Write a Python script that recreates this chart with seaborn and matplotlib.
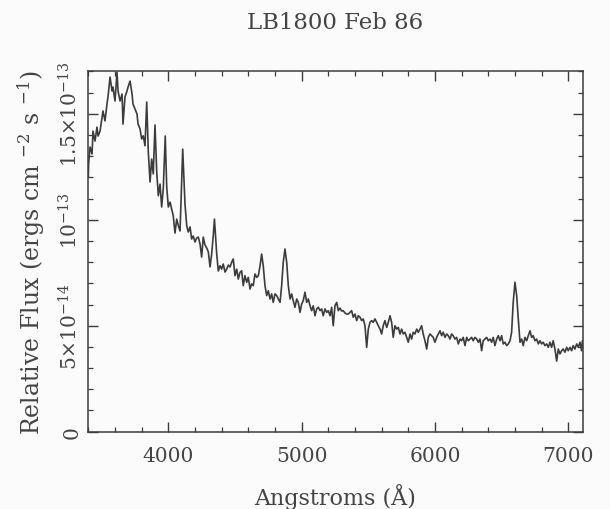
import matplotlib
matplotlib.use("Agg")
import matplotlib.pyplot as plt
import seaborn as sns
import pandas as pd
from matplotlib.ticker import MultipleLocator, FixedLocator

# Wavelength (Angstrom)
wavelength = [
    3400, 3402, 3413, 3428, 3435, 3450, 3465, 3473, 3488, 3503, 3510, 3525, 3540, 3548, 3563, 3578,
    3585, 3600, 3615, 3623, 3638, 3653, 3660, 3675, 3690, 3698, 3713, 3728, 3735, 3750, 3765, 3773,
    3788, 3800, 3812, 3825, 3838, 3850, 3863, 3875, 3887, 3900, 3913, 3925, 3938, 3950, 3962, 3977,
    3988, 4000, 4013, 4025, 4037, 4050, 4063, 4075, 4088, 4108, 4125, 4138, 4150, 4163, 4175, 4187,
    4200, 4213, 4225, 4238, 4250, 4262, 4275, 4288, 4300, 4313, 4325, 4337, 4346, 4363, 4375, 4388,
    4400, 4412, 4425, 4438, 4450, 4463, 4475, 4487, 4500, 4513, 4525, 4538, 4550, 4562, 4575, 4588,
    4600, 4613, 4625, 4637, 4650, 4663, 4675, 4688, 4700, 4712, 4725, 4738, 4750, 4763, 4775, 4787,
    4800, 4813, 4825, 4838, 4850, 4862, 4875, 4888, 4900, 4913, 4925, 4937, 4950, 4963, 4975, 4988,
    5000, 5012, 5025, 5038, 5050, 5063, 5075, 5087, 5100, 5113, 5125, 5138, 5150, 5162, 5175, 5188,
    5200, 5213, 5225, 5237, 5250, 5263, 5275, 5288, 5300, 5312, 5325, 5338, 5350, 5363, 5375, 5387,
    5400, 5413, 5425, 5438, 5450, 5462, 5475, 5488, 5500, 5513, 5525, 5537, 5550, 5563, 5575, 5588,
    5600, 5612, 5625, 5638, 5650, 5663, 5675, 5687, 5700, 5713, 5725, 5738, 5750, 5762, 5775, 5788,
    5800, 5813, 5825, 5837, 5850, 5863, 5875, 5888, 5900, 5912, 5925, 5938, 5950, 5963, 5975, 5987,
    6000, 6013, 6025, 6038, 6050, 6062, 6075, 6088, 6100, 6113, 6125, 6137, 6150, 6163, 6175, 6188,
    6200, 6212, 6225, 6238, 6250, 6263, 6275, 6287, 6300, 6313, 6325, 6338, 6350, 6362, 6375, 6388,
    6400, 6413, 6425, 6437, 6450, 6463, 6475, 6488, 6500, 6512, 6525, 6538, 6550, 6563, 6575, 6587,
    6600, 6613, 6625, 6638, 6650, 6662, 6675, 6688, 6700, 6713, 6725, 6737, 6750, 6763, 6775, 6788,
    6800, 6812, 6825, 6838, 6850, 6863, 6875, 6887, 6900, 6913, 6925, 6938, 6950, 6962, 6975, 6988,
    7000, 7013, 7025, 7037, 7050, 7063, 7075, 7088, 7100, 7106,
]

# Relative flux in units of 1e-14 ergs cm^-2 s^-1
flux = [
    12.01, 12.63, 13.43, 13.10, 14.18, 13.71, 14.37, 13.95, 14.18, 14.84, 15.13, 14.66, 15.46, 15.83, 16.73, 16.07,
    16.26, 15.60, 16.95, 16.07, 15.60, 15.93, 14.51, 15.79, 16.07, 16.26, 16.54, 15.93, 15.46, 15.22, 14.99, 14.51,
    14.28, 13.81, 13.96, 13.49, 15.55, 13.19, 11.78, 12.86, 12.16, 14.47, 12.25, 11.13, 11.68, 10.60, 11.45, 13.95,
    11.54, 10.60, 10.83, 10.50, 10.19, 9.37, 10.03, 9.72, 9.47, 13.33, 10.74, 9.72, 9.42, 9.66, 9.09, 9.23,
    8.95, 9.14, 9.18, 8.85, 8.24, 9.18, 8.81, 8.67, 8.48, 7.77, 8.38, 9.25, 10.03, 8.38, 7.58, 7.83,
    7.67, 7.91, 7.53, 7.67, 7.86, 7.77, 7.99, 8.15, 7.36, 7.67, 7.20, 7.52, 7.59, 6.89, 7.36, 7.05,
    7.28, 6.73, 6.97, 6.89, 7.44, 7.28, 7.36, 7.83, 8.38, 7.83, 6.89, 6.42, 6.65, 6.26, 6.50, 6.10,
    6.50, 6.42, 6.26, 6.10, 6.89, 7.99, 8.62, 7.99, 6.89, 6.26, 6.50, 6.18, 5.87, 6.26, 6.10, 5.63,
    6.02, 6.18, 6.58, 6.10, 6.26, 5.94, 5.71, 5.94, 5.47, 5.79, 5.87, 5.71, 5.79, 5.47, 5.79, 5.63,
    5.71, 5.47, 5.87, 5.00, 5.94, 6.10, 5.71, 5.83, 5.69, 5.71, 5.60, 5.55, 5.55, 5.63, 5.71, 5.40,
    5.55, 5.24, 5.47, 5.40, 5.24, 5.32, 5.00, 3.98, 4.84, 5.16, 5.24, 5.16, 5.32, 5.16, 5.00, 4.84,
    4.61, 5.00, 5.24, 4.92, 5.16, 5.47, 5.16, 4.45, 5.00, 4.84, 4.92, 4.61, 4.84, 4.61, 4.69, 4.45,
    4.22, 4.61, 4.37, 4.69, 4.61, 4.84, 4.69, 4.84, 5.00, 4.61, 4.29, 3.90, 4.45, 4.61, 4.53, 4.45,
    4.22, 4.45, 4.61, 4.76, 4.53, 4.69, 4.45, 4.61, 4.53, 4.37, 4.61, 4.53, 4.37, 4.45, 4.14, 4.37,
    4.29, 4.45, 4.06, 4.45, 4.29, 4.37, 4.45, 4.29, 4.45, 4.37, 4.22, 4.37, 3.82, 4.29, 4.37, 4.45,
    4.29, 4.37, 4.22, 4.45, 4.06, 4.37, 4.53, 4.29, 4.53, 4.14, 4.22, 4.06, 4.14, 4.29, 4.69, 6.10,
    7.05, 6.42, 5.32, 4.22, 4.37, 4.06, 4.45, 4.29, 4.53, 4.76, 4.45, 4.53, 4.29, 4.37, 4.14, 4.29,
    4.14, 4.22, 4.06, 4.14, 3.98, 4.22, 3.98, 4.29, 3.90, 3.33, 3.90, 3.67, 3.82, 3.90, 3.75, 3.98,
    3.82, 3.98, 3.82, 4.06, 3.90, 4.14, 3.98, 4.22, 3.82, 4.29,
]

x_ticks = [4000, 5000, 6000, 7000]
x_tick_labels = ["4000", "5000", "6000", "7000"]
y_ticks = [0, 5, 10, 15]
y_tick_labels = ["0", r"$5{\times}10^{-14}$", r"$10^{-13}$", r"$1.5{\times}10^{-13}$"]

title = "LB1800 Feb 86"
x_label = "Angstroms (Å)"
y_label = r"Relative Flux (ergs cm $^{-2}$ s $^{-1}$)"

sns.set_theme(style="ticks")
plt.rcParams["font.family"] = ["DejaVu Serif"]
plt.rcParams["mathtext.fontset"] = "dejavuserif"

ink = "#3c3c3c"
df = pd.DataFrame({"wavelength": wavelength, "flux": flux})

fig = plt.figure(figsize=(6.1, 5.1), dpi=100)
fig.patch.set_facecolor("#fbfbfb")
ax = fig.add_axes([0.1448, 0.1516, 0.8104, 0.7078])
ax.set_facecolor("#fbfbfb")

sns.lineplot(data=df, x="wavelength", y="flux", ax=ax, color=ink,
             linewidth=1.2, estimator=None, sort=False)

ax.set_xlim(3400, 7108)
ax.set_ylim(0, 17.03)

ax.xaxis.set_major_locator(FixedLocator(x_ticks))
ax.set_xticklabels(x_tick_labels)
ax.xaxis.set_minor_locator(MultipleLocator(200))
ax.yaxis.set_major_locator(FixedLocator(y_ticks))
ax.set_yticklabels(y_tick_labels, rotation=90, va="center")
ax.yaxis.set_minor_locator(MultipleLocator(1))

ax.tick_params(which="both", direction="in", top=True, right=True,
               colors=ink, labelcolor="#444444")
ax.tick_params(which="major", length=7, width=1.0, labelsize=14.5)
ax.tick_params(axis="x", which="major", pad=10)
ax.tick_params(axis="y", which="major", pad=5)
ax.tick_params(which="minor", length=3.5, width=0.9)

for s in ax.spines.values():
    s.set_visible(True)
    s.set_color(ink)
    s.set_linewidth(1.1)

ax.set_xlabel(x_label, fontsize=16, color="#444444", labelpad=13)
ax.set_ylabel(y_label, fontsize=17, color="#444444", labelpad=8)
fig.text(0.55, 0.955, title, ha="center", va="center", fontsize=16.5, color="#444444")

fig.savefig("out.png", dpi=100, facecolor=fig.get_facecolor())
